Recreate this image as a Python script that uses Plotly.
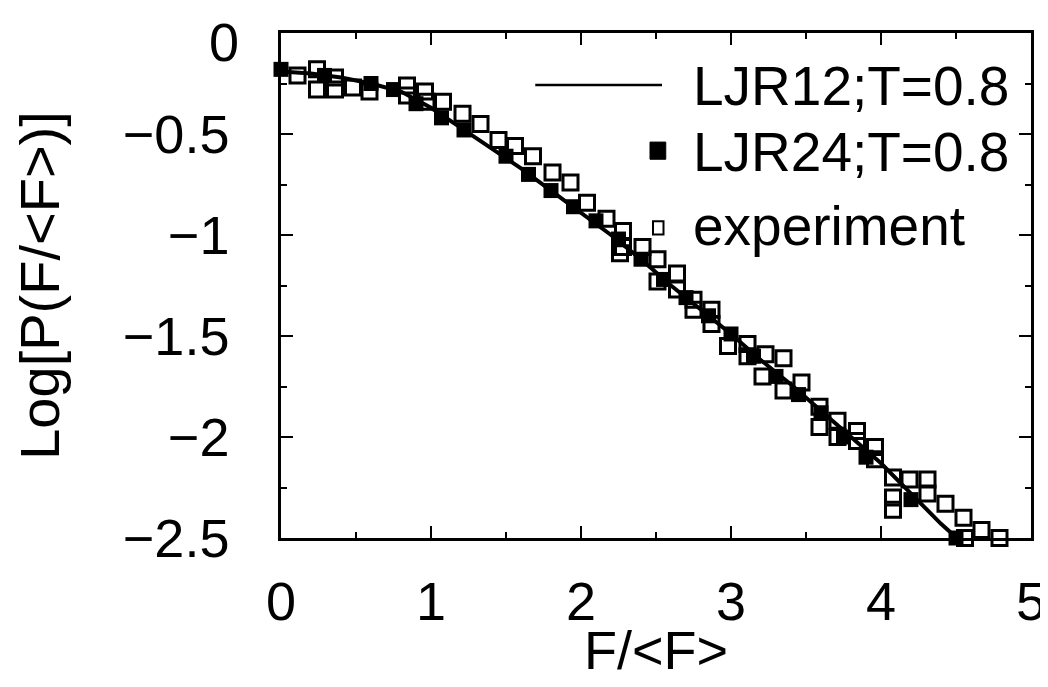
import plotly.graph_objects as go

# LJR12; T=0.8 (solid line)
ljr12_x = [0.0, 0.2, 0.4, 0.6, 0.8, 1.0, 1.2, 1.4, 1.6, 1.8, 2.0, 2.2, 2.4, 2.6, 2.8, 3.0,
           3.2, 3.4, 3.6, 3.8, 4.0, 4.2, 4.4, 4.52]
ljr12_y = [-0.19, -0.2, -0.22, -0.25, -0.29, -0.37, -0.47, -0.57, -0.67, -0.78, -0.89, -1.0,
           -1.12, -1.25, -1.37, -1.49, -1.62, -1.74, -1.87, -2.0, -2.13, -2.28, -2.43, -2.51]

# LJR24; T=0.8 (filled squares)
ljr24_x = [0.0, 0.29, 0.6, 0.75, 0.9, 1.07, 1.22, 1.5, 1.65, 1.8, 1.95, 2.1, 2.25, 2.4, 2.55,
           2.7, 2.85, 3.0, 3.15, 3.3, 3.45, 3.6, 3.75, 3.9, 4.2, 4.5]
ljr24_y = [-0.18, -0.21, -0.25, -0.28, -0.35, -0.42, -0.48, -0.61, -0.7, -0.78, -0.86, -0.93,
           -1.02, -1.12, -1.22, -1.31, -1.40, -1.49, -1.6, -1.70, -1.79, -1.88, -2.0, -2.1,
           -2.31, -2.5]

# experiment (open squares)
exp_x = [0.11, 0.24, 0.24, 0.36, 0.36, 0.48, 0.59, 0.84, 0.84, 0.96, 0.97, 1.08, 1.21, 1.33,
         1.45, 1.56, 1.68, 1.81, 1.93, 2.04, 2.17, 2.28, 2.28, 2.41, 2.26, 2.51, 2.51, 2.64,
         2.64, 2.75, 2.75, 2.87, 2.87, 2.98, 3.11, 3.11, 3.23, 3.21, 3.35, 3.35, 3.47, 3.59,
         3.59, 3.71, 3.71, 3.84, 3.84, 3.96, 3.96, 4.08, 4.08, 4.08, 4.19, 4.31, 4.31, 4.43,
         4.55, 4.67, 4.79, 4.56]
exp_y = [-0.21, -0.18, -0.28, -0.22, -0.28, -0.27, -0.29, -0.26, -0.31, -0.29, -0.34, -0.34,
         -0.40, -0.45, -0.53, -0.56, -0.61, -0.69, -0.74, -0.84, -0.92, -0.98, -1.06, -1.06,
         -1.09, -1.12, -1.23, -1.19, -1.27, -1.32, -1.37, -1.37, -1.44, -1.55, -1.54, -1.6,
         -1.59, -1.70, -1.61, -1.77, -1.73, -1.85, -1.95, -1.92, -2.0, -1.97, -2.02, -2.05,
         -2.11, -2.2, -2.3, -2.36, -2.21, -2.21, -2.28, -2.33, -2.4, -2.46, -2.5, -2.5]

x_ticks = [0, 1, 2, 3, 4, 5]
y_ticks = [0, -0.5, -1, -1.5, -2, -2.5]
# the top "0" label sits slightly below its tick in the original; it is drawn separately
y_tick_labels = ["", "\u22120.5", "\u22121", "\u22121.5", "\u22122", "\u22122.5"]

FONT = "Liberation Sans, Arial, Helvetica, sans-serif"
TICK_SIZE = 54

fig = go.Figure()
fig.add_trace(go.Scatter(x=exp_x, y=exp_y, mode="markers", name="experiment",
                         marker=dict(symbol="square-open", size=15, color="black",
                                     line=dict(width=3, color="black")),
                         cliponaxis=False))
fig.add_trace(go.Scatter(x=ljr12_x, y=ljr12_y, mode="lines", name="LJR12;T=0.8",
                         line=dict(color="black", width=4)))
fig.add_trace(go.Scatter(x=ljr24_x, y=ljr24_y, mode="markers", name="LJR24;T=0.8",
                         marker=dict(symbol="square", size=15, color="black"),
                         cliponaxis=False))

axis_common = dict(showline=True, linecolor="black", linewidth=2.5, mirror="ticks",
                   ticks="inside", tickcolor="black", tickwidth=2, showgrid=False,
                   zeroline=False, automargin=False, ticklabeloverflow="allow",
                   tickfont=dict(family=FONT, size=TICK_SIZE, color="black"))

fig.update_xaxes(range=[0, 5], tickvals=x_ticks, ticklen=12, ticklabelstandoff=14,
                 minor=dict(dtick=0.5, ticks="inside", ticklen=6, tickwidth=2,
                            tickcolor="black", showgrid=False),
                 **axis_common)
fig.update_yaxes(range=[-2.5, 0], tickvals=y_ticks, ticktext=y_tick_labels, ticklen=12,
                 ticklabelstandoff=38,
                 minor=dict(dtick=0.25, ticks="inside", ticklen=6, tickwidth=2,
                            tickcolor="black", showgrid=False),
                 title=dict(text="Log[P(F/&lt;F&gt;)]",
                            font=dict(family=FONT, size=56, color="black"), standoff=60),
                 **axis_common)

# x-axis title
fig.add_annotation(xref="paper", yref="paper", x=0.5, y=-0.222, text="F/&lt;F&gt;",
                   showarrow=False, xanchor="center", yanchor="middle",
                   font=dict(family=FONT, size=54, color="black"))

fig.add_annotation(xref="paper", yref="y", x=0, y=y_ticks[0], text="0", showarrow=False,
                   xanchor="right", yanchor="middle", xshift=-40, yshift=-9,
                   font=dict(family=FONT, size=TICK_SIZE, color="black"))

# legend drawn in paper coordinates
legend_font = dict(family=FONT, size=55, color="black")
rows = [("LJR12;T=0.8", 0.895), ("LJR24;T=0.8", 0.765), ("experiment", 0.618)]
for text, yp in rows:
    fig.add_annotation(xref="paper", yref="paper", x=0.547, y=yp, text=text,
                       showarrow=False, xanchor="left", yanchor="middle", font=legend_font)
fig.add_shape(type="line", xref="paper", yref="paper", x0=0.339, x1=0.508, y0=0.897,
              y1=0.897, line=dict(color="black", width=2.5))
fig.add_shape(type="rect", xref="paper", yref="paper", x0=0.492, x1=0.513, y0=0.75, y1=0.784,
              fillcolor="black", line=dict(color="black", width=1))
fig.add_shape(type="rect", xref="paper", yref="paper", x0=0.496, x1=0.51, y0=0.601, y1=0.627,
              fillcolor="white", line=dict(color="black", width=2))

# page body adds an 8px margin; height is kept small enough to avoid a scrollbar
fig.update_layout(width=1040, height=671, margin=dict(l=273, r=17, t=25, b=141),
                  plot_bgcolor="white", paper_bgcolor="white", showlegend=False,
                  font=dict(family=FONT, color="black"))

fig.write_html("out.html")
